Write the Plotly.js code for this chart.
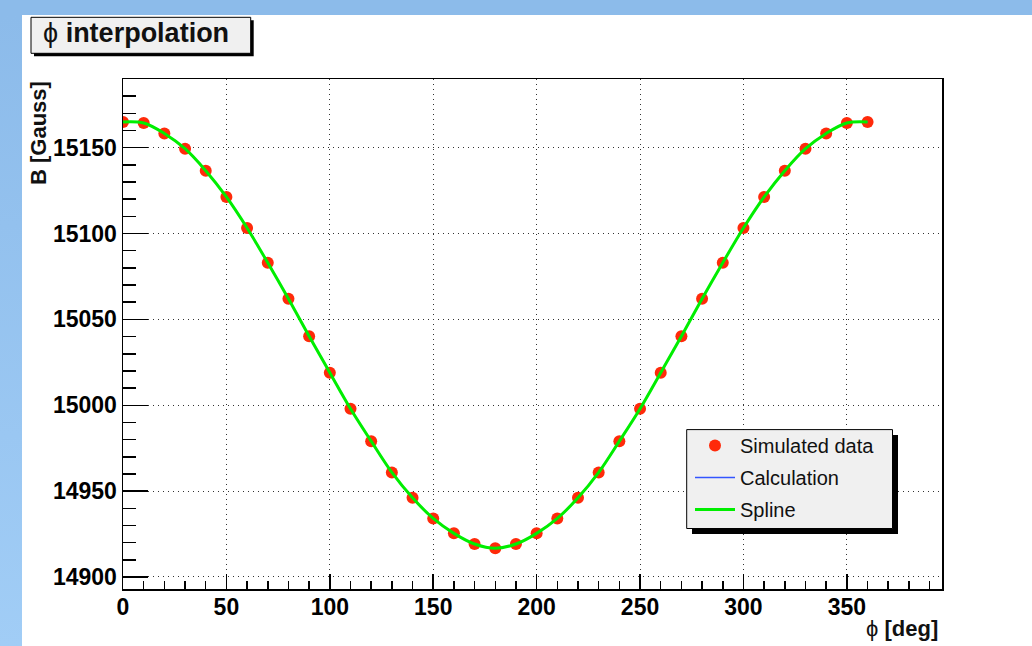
<!DOCTYPE html>
<html><head><meta charset="utf-8">
<script src="https://cdn.plot.ly/plotly-3.0.1.min.js"></script>
<style>
html,body{margin:0;padding:0;background:#fff;overflow:hidden;}
#topband{position:absolute;left:0;top:0;width:1032px;height:15px;background:#8cbbea;}
#leftband{position:absolute;left:0;top:15px;width:22px;height:631px;background:linear-gradient(#8cbbea,#a1cdf6);}
#chart{position:absolute;left:0;top:0;width:1032px;height:646px;}
</style></head><body>
<div id="topband"></div><div id="leftband"></div><div id="chart"></div>
<script>
// ---- data ----
const phiDeg = [0,10,20,30,40,50,60,70,80,90,100,110,120,130,140,150,160,170,180,
                190,200,210,220,230,240,250,260,270,280,290,300,310,320,330,340,350,360];
const bSimulated = [15165,15164.4,15158.3,15149.4,15136.6,15121.3,15103.2,15083,15062,15040.2,
                    15019,14998,14979.1,14960.9,14946.1,14934.1,14925.4,14919.2,14916.7,
                    14919.2,14925.4,14934.1,14946.1,14960.9,14979.1,14998,15019,15040.2,
                    15062,15083,15103.2,15121.3,15136.6,15149.4,15158.3,15164.4,15165];
const seriesNames = ['Simulated data','Calculation','Spline'];
const xTickVals = [0,50,100,150,200,250,300,350];
const yTickVals = [14900,14950,15000,15050,15100,15150];

// ---- geometry helpers (pixel -> paper) ----
const L=123, R=942, T=79, B=589;
const px = x => (x-L)/(R-L);
const py = y => (B-y)/(B-T);
const FONT = 'Liberation Sans, Arial, Helvetica, sans-serif';

const traces = [
  {x: phiDeg, y: bSimulated, name: seriesNames[0], mode: 'markers', type: 'scatter',
   marker: {color: '#ff2a0a', size: 12, line: {width: 0}}, legendrank: 1, legendgroup: 'a'},
  {x: phiDeg, y: bSimulated, name: seriesNames[1], mode: 'lines', type: 'scatter',
   line: {color: '#3355ff', width: 1.5, shape: 'spline'}, legendrank: 2, legendgroup: 'b'},
  {x: phiDeg, y: bSimulated, name: seriesNames[2], mode: 'lines', type: 'scatter',
   line: {color: '#00ee00', width: 3, shape: 'spline'}, legendrank: 3, legendgroup: 'c'}
];

const axisCommon = {
  ticks: 'inside', tickwidth: 1.5, tickcolor: '#000',
  showline: true, mirror: true, linecolor: '#000', linewidth: 1.5,
  showgrid: true, gridcolor: '#333', gridwidth: 1, griddash: '1px,4px',
  zeroline: false, tickmode: 'array', tickformat: 'd',
  tickfont: {family: FONT, size: 23, color: '#000', weight: 'bold'}
};

const layout = {
  width: 1032, height: 646,
  margin: {l: L, r: 1032-R, t: T, b: 646-B, pad: 0},
  paper_bgcolor: 'rgba(0,0,0,0)', plot_bgcolor: '#fff',
  title: {text: 'ϕ <b>interpolation</b>', xref: 'container', yref: 'container',
          x: 43/1032, xanchor: 'left', y: 1-33/646, yanchor: 'middle',
          font: {family: FONT, size: 27, color: '#111'}},
  xaxis: Object.assign({}, axisCommon, {range: [0, 396], tickvals: xTickVals, ticklen: 15,
          ticklabelstandoff: -3,
          minor: {ticks: 'inside', dtick: 10, tick0: 0, ticklen: 8, tickwidth: 1.5, tickcolor: '#000', showgrid: false}}),
  yaxis: Object.assign({}, axisCommon, {range: [14893, 15190], tickvals: yTickVals, ticklen: 25,
          minor: {ticks: 'inside', dtick: 10, tick0: 14900, ticklen: 13, tickwidth: 1.5, tickcolor: '#000', showgrid: false}}),
  showlegend: true,
  legend: {x: px(690), y: py(426), xanchor: 'left', yanchor: 'top', traceorder: 'grouped',
           bgcolor: 'rgba(0,0,0,0)', borderwidth: 0, itemwidth: 40,
           font: {family: FONT, size: 20, color: '#111'}, tracegroupgap: 3},
  shapes: [
    {type: 'rect', xref: 'paper', yref: 'paper', layer: 'above',
     x0: px(34), x1: px(253.7), y0: py(56.3), y1: py(20.3), fillcolor: '#000', line: {width: 0}},
    {type: 'rect', xref: 'paper', yref: 'paper', layer: 'above',
     x0: px(31), x1: px(250.7), y0: py(53.3), y1: py(17.3), fillcolor: '#f0f0f0', line: {color: '#000', width: 1}},
    {type: 'rect', xref: 'paper', yref: 'paper', layer: 'above',
     x0: px(692), x1: px(898), y0: py(534), y1: py(435), fillcolor: '#000', line: {width: 0}},
    {type: 'rect', xref: 'paper', yref: 'paper', layer: 'above',
     x0: px(686.7), x1: px(892.5), y0: py(528.5), y1: py(429.6), fillcolor: '#f0f0f0', line: {color: '#000', width: 1}}
  ],
  annotations: [
    {text: '<b>B [Gauss]</b>', textangle: -90, xref: 'paper', yref: 'paper',
     x: px(38), xanchor: 'center', y: py(79), yanchor: 'top', showarrow: false,
     font: {family: FONT, size: 22, color: '#111'}},
    {text: 'ϕ <b>[deg]</b>', xref: 'paper', yref: 'paper',
     x: px(940), xanchor: 'right', y: py(628), yanchor: 'middle', showarrow: false,
     font: {family: FONT, size: 22, color: '#111'}}
  ]
};

Plotly.newPlot('chart', traces, layout, {staticPlot: true, displayModeBar: false});
</script>
</body></html>
